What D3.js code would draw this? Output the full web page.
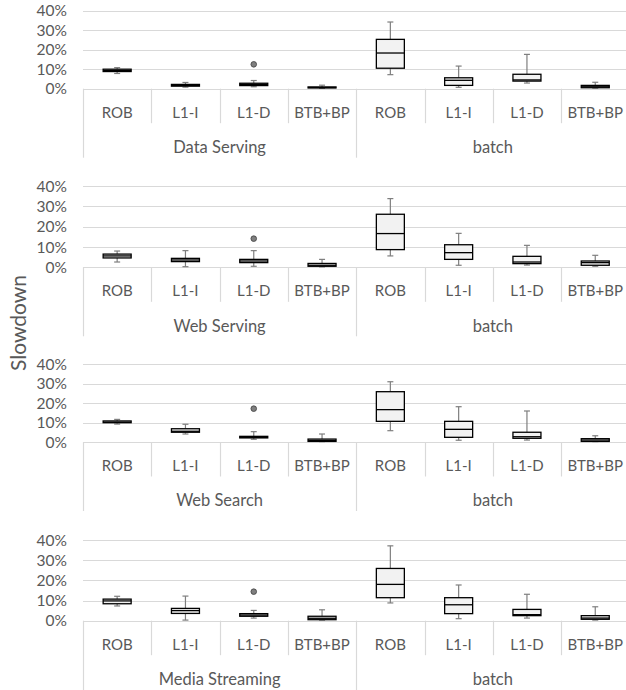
<!DOCTYPE html>
<html lang="en">
<head>
  <meta charset="UTF-8" />
  <title>Slowdown box plots</title>
  <script src="https://d3js.org/d3.v7.min.js"></script>
  <style>
    html, body {
      margin: 0;
      padding: 0;
      background: #fff;
      overflow: hidden;
    }
    svg {
      display: block;
      font-family: Lato, "Open Sans", sans-serif;
    }
  </style>
</head>
<body>
<svg width="626" height="690"></svg>

<script>
// --- data -------------------------------------------------------------
const workloads = ["Data Serving", "Web Serving", "Web Search", "Media Streaming"];
const components = ["ROB", "L1-I", "L1-D", "BTB+BP"];
const yTicks = [0, 10, 20, 30, 40];

// five-number summary per box, in %: [min, q1, median, q3, max]
// first four = workload alone, last four = workload + batch
const dataServing = [
  [7.8, 8.8, 9.3, 10.0, 10.8], [0.8, 1.3, 1.7, 2.2, 3.2], [1.0, 1.6, 2.2, 2.8, 4.2], [0.2, 0.4, 0.6, 0.9, 1.8],
  [7.2, 10.5, 18.3, 25.3, 34.2], [0.7, 1.7, 4.3, 5.6, 11.6], [2.9, 3.9, 4.5, 7.4, 17.6], [0.3, 0.5, 1.0, 1.7, 3.3]
];
const webServing = [
  [2.6, 4.6, 5.6, 6.5, 8.0], [0.3, 2.8, 3.6, 4.4, 8.2], [0.5, 2.3, 3.1, 3.9, 8.2], [0.2, 0.5, 1.0, 1.9, 3.9],
  [5.6, 8.7, 16.6, 26.1, 33.8], [1.0, 3.9, 7.2, 11.1, 16.7], [1.1, 1.8, 2.6, 5.4, 10.8], [0.5, 1.0, 2.3, 3.1, 5.9]
];
const webSearch = [
  [9.2, 9.9, 10.2, 10.8, 11.6], [4.1, 5.0, 5.5, 6.8, 9.1], [1.4, 2.1, 2.4, 2.9, 5.3], [0.2, 0.3, 0.8, 1.5, 4.1],
  [5.8, 10.6, 16.6, 25.8, 30.9], [0.9, 2.4, 6.5, 10.6, 18.1], [1.0, 1.9, 2.7, 5.0, 15.9], [0.2, 0.3, 1.0, 1.7, 3.2]
];
const mediaStreaming = [
  [7.3, 8.4, 9.8, 10.7, 12.1], [0.3, 3.6, 5.0, 6.1, 12.2], [1.3, 2.2, 2.8, 3.5, 5.1], [0.3, 0.5, 1.2, 2.2, 5.4],
  [8.8, 11.4, 18.0, 25.9, 37.1], [1.0, 3.5, 7.9, 11.4, 17.7], [1.3, 2.5, 3.0, 5.6, 13.1], [0.3, 0.7, 1.3, 2.5, 6.9]
];
// outliers: [box index, value %]
const outliers = [
  [[2, 12.5]],
  [[2, 14.1]],
  [[2, 17.1]],
  [[2, 14.4]]
];
const panelData = [dataServing, webServing, webSearch, mediaStreaming];

// --- layout -----------------------------------------------------------
const svg = d3.select("svg");
const textColor = "#595959";
const gridColor = "#d9d9d9";
const left = 83, colW = 68.3;
// [y of 0%, y of 40%] for each panel
const panelY = [[88.7, 10.7], [267.3, 186], [442, 364], [620.7, 540]];

const x = d3.scaleBand()
  .domain(d3.range(8))
  .range([left, left + 8 * colW])
  .paddingInner(0).paddingOuter(0);
const boxW = 28;

workloads.forEach((name, p) => {
  const y = d3.scaleLinear().domain([0, 40]).range(panelY[p]);
  const g = svg.append("g");
  const y0 = y(0);
  const right = 626;

  // gridlines
  g.append("g").selectAll("line")
    .data(yTicks)
    .join("line")
    .attr("x1", left).attr("x2", right)
    .attr("y1", d => Math.round(y(d)) + 0.5).attr("y2", d => Math.round(y(d)) + 0.5)
    .attr("stroke", gridColor).attr("stroke-width", 1.2);

  // tick labels
  g.append("g").selectAll("text")
    .data(yTicks)
    .join("text")
    .attr("x", 67).attr("y", d => y(d))
    .attr("dy", "0.36em")
    .attr("text-anchor", "end")
    .attr("fill", textColor)
    .attr("font-size", 15.5)
    .text(d => d + "%");

  // category separators
  const seps = d3.range(9).map(i => left + i * colW);
  g.append("g").selectAll("line")
    .data(seps)
    .join("line")
    .attr("x1", d => Math.round(d) + 0.5).attr("x2", d => Math.round(d) + 0.5)
    .attr("y1", y0)
    .attr("y2", (d, i) => (i % 4 === 0) ? (p === 3 ? 690 : y0 + 69) : y0 + 34.5)
    .attr("stroke", gridColor).attr("stroke-width", 1.2);

  // component labels
  g.append("g").selectAll("text")
    .data(d3.range(8))
    .join("text")
    .attr("x", i => x(i) + colW / 2)
    .attr("y", y0 + 23.5)
    .attr("dy", "0.36em")
    .attr("text-anchor", "middle")
    .attr("fill", textColor)
    .attr("font-size", 15)
    .text(i => components[i % 4]);

  // group labels
  g.append("g").selectAll("text")
    .data([name, "batch"])
    .join("text")
    .attr("x", (d, i) => left + (i * 4 + 2) * colW)
    .attr("y", y0 + 58.3)
    .attr("dy", "0.36em")
    .attr("text-anchor", "middle")
    .attr("fill", textColor)
    .attr("font-size", 16.5)
    .text(d => d);

  // boxes
  const boxes = g.append("g").selectAll("g")
    .data(panelData[p])
    .join("g")
    .attr("transform", (d, i) => `translate(${x(i) + colW / 2},0)`);

  // whiskers
  boxes.append("line")
    .attr("x1", 0).attr("x2", 0)
    .attr("y1", d => y(d[4])).attr("y2", d => y(d[3]))
    .attr("stroke", "#7f7f7f").attr("stroke-width", 1.2);
  boxes.append("line")
    .attr("x1", 0).attr("x2", 0)
    .attr("y1", d => y(d[1])).attr("y2", d => y(d[0]))
    .attr("stroke", "#7f7f7f").attr("stroke-width", 1.2);
  boxes.append("line")
    .attr("x1", -3).attr("x2", 3)
    .attr("y1", d => y(d[4])).attr("y2", d => y(d[4]))
    .attr("stroke", "#7f7f7f").attr("stroke-width", 1.2);
  boxes.append("line")
    .attr("x1", -3).attr("x2", 3)
    .attr("y1", d => y(d[0])).attr("y2", d => y(d[0]))
    .attr("stroke", "#7f7f7f").attr("stroke-width", 1.2);

  boxes.append("rect")
    .attr("x", -boxW / 2).attr("width", boxW)
    .attr("y", d => y(d[3]))
    .attr("height", d => Math.max(0.5, y(d[1]) - y(d[3])))
    .attr("fill", "#f2f2f2")
    .attr("stroke", "#000").attr("stroke-width", 1.3);
  boxes.append("line")
    .attr("x1", -boxW / 2).attr("x2", boxW / 2)
    .attr("y1", d => y(d[2])).attr("y2", d => y(d[2]))
    .attr("stroke", "#000").attr("stroke-width", 1.3);

  // outliers
  g.append("g").selectAll("circle")
    .data(outliers[p])
    .join("circle")
    .attr("cx", d => x(d[0]) + colW / 2)
    .attr("cy", d => y(d[1]))
    .attr("r", 2.8)
    .attr("fill", "#7f7f7f")
    .attr("stroke", "#404040").attr("stroke-width", 0.8);
});

// y-axis title
svg.append("text")
  .attr("transform", "translate(26,323) rotate(-90)")
  .attr("text-anchor", "middle")
  .attr("fill", textColor)
  .attr("font-size", 21)
  .text("Slowdown");
</script>
</body>
</html>
